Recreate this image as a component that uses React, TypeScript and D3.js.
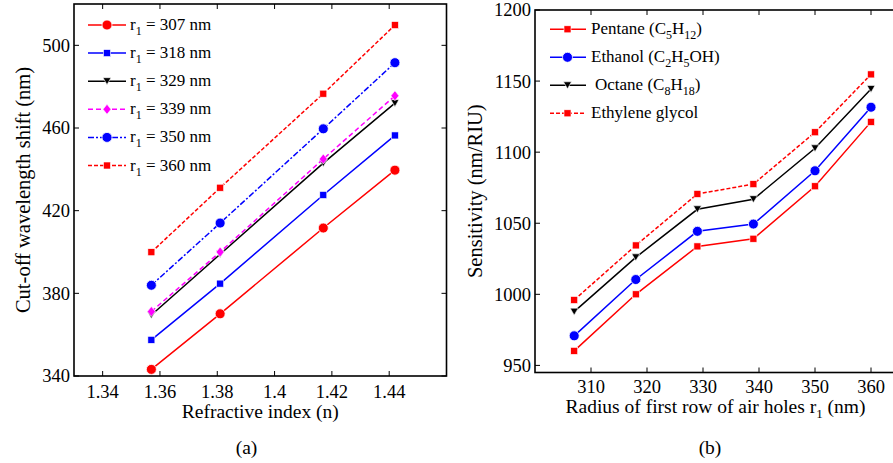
import React from 'react';
import * as d3 from 'd3';

// ---- Panel (a) data ----
const refIndex = [1.357, 1.381, 1.417, 1.442];
const shift307 = [343.2, 370.1, 411.6, 439.6];
const shift318 = [357.5, 384.7, 427.6, 456.4];
const shift329 = [369.5, 398.9, 443.0, 472.0];
const shift339 = [371.2, 400.0, 445.0, 475.6];
const shift350 = [383.9, 414.0, 459.6, 491.6];
const shift360 = [399.9, 431.1, 476.6, 509.8];
const aXTicks = [1.34, 1.36, 1.38, 1.4, 1.42, 1.44];
const aXTickLabels = ['1.34', '1.36', '1.38', '1.4', '1.42', '1.44'];
const aYTicks = [340, 380, 420, 460, 500];

// ---- Panel (b) data ----
const radius = [307, 318, 329, 339, 350, 360];
const sensPentane = [960.2, 1000.0, 1033.7, 1039.1, 1076.0, 1121.3];
const sensEthanol = [970.8, 1010.4, 1044.3, 1049.4, 1086.9, 1131.6];
const sensOctane = [987.8, 1026.0, 1059.8, 1066.9, 1102.7, 1144.4];
const sensGlycol = [996.0, 1034.4, 1070.6, 1077.5, 1114.0, 1154.7];
const bXTicks = [310, 320, 330, 340, 350, 360];
const bYTicks = [950, 1000, 1050, 1100, 1150, 1200];

const FONT = '"Liberation Serif", "Times New Roman", serif';
const FS_LEG = 17;
const FS_TICK = 18.5;
const FS_XLAB = 19.5;
const FS_YLAB = 20.5;

type Marker = 'circle' | 'square' | 'triangle' | 'diamond';

function MarkerShape({ type, x, y, color }: { type: Marker; x: number; y: number; color: string }) {
  if (type === 'circle') return <circle cx={x} cy={y} r={5} fill={color} stroke="#fff" strokeWidth={0.8} />;
  if (type === 'square') return <rect x={x - 3.5} y={y - 3.5} width={7} height={7} fill={color} stroke="#fff" strokeWidth={0.6} />;
  if (type === 'triangle')
    return <path d={`M${x - 4},${y - 3.5}L${x + 4},${y - 3.5}L${x},${y + 3.5}Z`} fill={color} stroke="#fff" strokeWidth={0.6} />;
  return <path d={`M${x},${y - 5}L${x + 4},${y}L${x},${y + 5}L${x - 4},${y}Z`} fill={color} stroke="#fff" strokeWidth={0.6} />;
}

interface SeriesDef {
  values: number[];
  color: string;
  dash?: string;
  marker: Marker;
  label: React.ReactNode;
  dx?: number;
}

function Sub({ children, size = 12 }: { children: React.ReactNode; size?: number }) {
  return (
    <tspan dy={5} fontSize={size}>
      {children}
    </tspan>
  );
}
function Up({ children }: { children: React.ReactNode }) {
  return <tspan dy={-5}>{children}</tspan>;
}

export default function App() {
  // Panel (a) scales
  const ax = d3.scaleLinear().domain([1.33, 1.46]).range([74, 446.5]);
  const ay = d3.scaleLinear().domain([340, 520]).range([376, 4]);
  // Panel (b) scales
  const bx = d3.scaleLinear().domain([300, 365]).range([535, 899]);
  const by = d3.scaleLinear().domain([945, 1200]).range([372.5, 10]);

  const aSeries: SeriesDef[] = [
    { values: shift307, color: '#ff0000', marker: 'circle', label: <>r<Sub>1</Sub><Up> = 307 nm</Up></> },
    { values: shift318, color: '#0000ff', marker: 'square', label: <>r<Sub>1</Sub><Up> = 318 nm</Up></> },
    { values: shift329, color: '#000000', marker: 'triangle', label: <>r<Sub>1</Sub><Up> = 329 nm</Up></> },
    { values: shift339, color: '#ff00ff', dash: '5,3', marker: 'diamond', label: <>r<Sub>1</Sub><Up> = 339 nm</Up></> },
    { values: shift350, color: '#0000ff', dash: '6,2,2,2', marker: 'circle', label: <>r<Sub>1</Sub><Up> = 350 nm</Up></> },
    { values: shift360, color: '#ff0000', dash: '4,2', marker: 'square', label: <>r<Sub>1</Sub><Up> = 360 nm</Up></> },
  ];

  const bSeries: SeriesDef[] = [
    { values: sensPentane, color: '#ff0000', marker: 'square', label: <>Pentane (C<Sub>5</Sub><Up>H</Up><Sub>12</Sub><Up>)</Up></> },
    { values: sensEthanol, color: '#0000ff', marker: 'circle', label: <>Ethanol (C<Sub>2</Sub><Up>H</Up><Sub>5</Sub><Up>OH)</Up></> },
    { values: sensOctane, color: '#000000', marker: 'triangle', dx: 4, label: <>Octane (C<Sub>8</Sub><Up>H</Up><Sub>18</Sub><Up>)</Up></> },
    { values: sensGlycol, color: '#ff0000', dash: '4,2', marker: 'square', label: <>Ethylene glycol</> },
  ];

  const aLine = d3
    .line<number>()
    .x((_, i) => ax(refIndex[i]))
    .y((d) => ay(d));
  const bLine = d3
    .line<number>()
    .x((_, i) => bx(radius[i]))
    .y((d) => by(d));

  const TL = 5;

  return (
    <svg
      width={893}
      height={463}
      style={{ position: 'absolute', left: 0, top: 0, background: '#fff' }}
      fontFamily={FONT}
    >
      <rect x={0} y={0} width={893} height={463} fill="#fff" />
      {/* ===== Panel (a) ===== */}
      <g>
        {aSeries.map((s, k) => (
          <g key={k}>
            <path d={aLine(s.values) || ''} fill="none" stroke={s.color} strokeWidth={1.5} strokeDasharray={s.dash} />
            {s.values.map((v, i) => (
              <MarkerShape key={i} type={s.marker} x={ax(refIndex[i])} y={ay(v)} color={s.color} />
            ))}
          </g>
        ))}
        <rect x={ax.range()[0]} y={ay.range()[1]} width={ax.range()[1] - ax.range()[0]} height={ay.range()[0] - ay.range()[1]} fill="none" stroke="#000" strokeWidth={1.6} />
        {aXTicks.map((t, i) => (
          <g key={i}>
            <line x1={ax(t)} x2={ax(t)} y1={ay.range()[0]} y2={ay.range()[0] - TL} stroke="#000" />
            <line x1={ax(t)} x2={ax(t)} y1={ay.range()[1]} y2={ay.range()[1] + TL} stroke="#000" />
            <text x={ax(t)} y={398} textAnchor="middle" fontSize={FS_TICK}>
              {aXTickLabels[i]}
            </text>
          </g>
        ))}
        {aYTicks.map((t, i) => (
          <g key={i}>
            <line x1={ax.range()[0]} x2={ax.range()[0] + TL} y1={ay(t)} y2={ay(t)} stroke="#000" />
            <line x1={ax.range()[1]} x2={ax.range()[1] - TL} y1={ay(t)} y2={ay(t)} stroke="#000" />
            <text x={70} y={ay(t)} dy="0.35em" textAnchor="end" fontSize={FS_TICK}>
              {t}
            </text>
          </g>
        ))}
        <text x={(ax.range()[0] + ax.range()[1]) / 2} y={418} textAnchor="middle" fontSize={FS_XLAB}>
          Refractive index (n)
        </text>
        <text transform={`translate(30,${(ay.range()[0] + ay.range()[1]) / 2}) rotate(-90)`} textAnchor="middle" fontSize={FS_YLAB}>
          Cut-off wavelength shift (nm)
        </text>
        <text x={246.5} y={454} textAnchor="middle" fontSize={FS_XLAB}>
          (a)
        </text>
        {aSeries.map((s, k) => {
          const y = 25 + k * 28.1;
          return (
            <g key={k}>
              <line x1={88} x2={126} y1={y} y2={y} stroke={s.color} strokeWidth={1.5} strokeDasharray={s.dash} />
              <MarkerShape type={s.marker} x={107} y={y} color={s.color} />
              <text x={130} y={y + 5} fontSize={FS_LEG}>
                {s.label}
              </text>
            </g>
          );
        })}
      </g>

      {/* ===== Panel (b) ===== */}
      <g>
        {bSeries.map((s, k) => (
          <g key={k}>
            <path d={bLine(s.values) || ''} fill="none" stroke={s.color} strokeWidth={1.5} strokeDasharray={s.dash} />
            {s.values.map((v, i) => (
              <MarkerShape key={i} type={s.marker} x={bx(radius[i])} y={by(v)} color={s.color} />
            ))}
          </g>
        ))}
        <rect x={bx.range()[0]} y={by.range()[1]} width={bx.range()[1] - bx.range()[0]} height={by.range()[0] - by.range()[1]} fill="none" stroke="#000" strokeWidth={1.6} />
        {bXTicks.map((t, i) => (
          <g key={i}>
            <line x1={bx(t)} x2={bx(t)} y1={by.range()[0]} y2={by.range()[0] - TL} stroke="#000" />
            <line x1={bx(t)} x2={bx(t)} y1={by.range()[1]} y2={by.range()[1] + TL} stroke="#000" />
            <text x={bx(t)} y={393} textAnchor="middle" fontSize={FS_TICK}>
              {t}
            </text>
          </g>
        ))}
        {bYTicks.map((t, i) => (
          <g key={i}>
            <line x1={bx.range()[0]} x2={bx.range()[0] + TL} y1={by(t)} y2={by(t)} stroke="#000" />
            <text x={531} y={by(t)} dy="0.35em" textAnchor="end" fontSize={FS_TICK}>
              {t}
            </text>
          </g>
        ))}
        <text x={715.5} y={413} textAnchor="middle" fontSize={FS_XLAB}>
          Radius of first row of air holes r<Sub size={13}>1</Sub>
          <Up> (nm)</Up>
        </text>
        <text transform={`translate(482,${(by.range()[0] + by.range()[1]) / 2}) rotate(-90)`} textAnchor="middle" fontSize={FS_YLAB}>
          Sensitivity (nm/RIU)
        </text>
        <text x={710} y={454} textAnchor="middle" fontSize={FS_XLAB}>
          (b)
        </text>
        {bSeries.map((s, k) => {
          const y = 29.3 + k * 28;
          return (
            <g key={k}>
              <line x1={550} x2={586} y1={y} y2={y} stroke={s.color} strokeWidth={1.5} strokeDasharray={s.dash} />
              <MarkerShape type={s.marker} x={567.5} y={y} color={s.color} />
              <text x={591 + (s.dx || 0)} y={y + 5} fontSize={FS_LEG}>
                {s.label}
              </text>
            </g>
          );
        })}
      </g>
    </svg>
  );
}
